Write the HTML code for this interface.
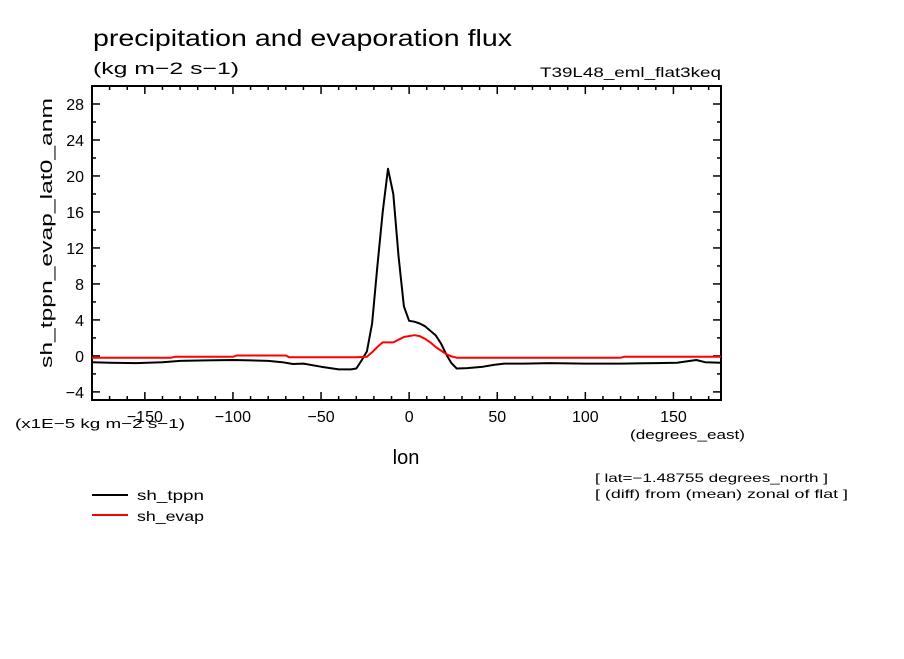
<!DOCTYPE html>
<html><head><meta charset="utf-8"><style>
html,body{margin:0;padding:0;background:#fff;}
svg text{font-family:"Liberation Sans",sans-serif;fill:#000;}
</style></head><body>
<svg id="chart" width="904" height="654" xmlns="http://www.w3.org/2000/svg">
<text x="93" y="46" font-size="23" textLength="419" lengthAdjust="spacingAndGlyphs">precipitation and evaporation flux</text>
<text x="93" y="74" font-size="17" textLength="146" lengthAdjust="spacingAndGlyphs">(kg m−2 s−1)</text>
<text x="540" y="77" font-size="14" textLength="181" lengthAdjust="spacingAndGlyphs">T39L48_eml_flat3keq</text>
<text transform="translate(52,233) rotate(-90)" font-size="17" text-anchor="middle" textLength="270" lengthAdjust="spacingAndGlyphs">sh_tppn_evap_lat0_anm</text>
<text x="15" y="428" font-size="13" textLength="170" lengthAdjust="spacingAndGlyphs">(x1E−5 kg m−2 s−1)</text>
<text x="630" y="439" font-size="13" textLength="115" lengthAdjust="spacingAndGlyphs">(degrees_east)</text>
<text x="406" y="464" font-size="20" text-anchor="middle">lon</text>
<text x="595" y="482" font-size="12" textLength="233" lengthAdjust="spacingAndGlyphs">[ lat=−1.48755 degrees_north ]</text>
<text x="595" y="498" font-size="12" textLength="253" lengthAdjust="spacingAndGlyphs">[ (diff) from (mean) zonal of flat ]</text>
<line x1="92" y1="495" x2="128" y2="495" stroke="#000" stroke-width="2"/>
<text x="137" y="500" font-size="14" textLength="67" lengthAdjust="spacingAndGlyphs">sh_tppn</text>
<line x1="92" y1="515" x2="128" y2="515" stroke="#f00" stroke-width="2"/>
<text x="137" y="521" font-size="14" textLength="67" lengthAdjust="spacingAndGlyphs">sh_evap</text>
<g id="axes"></g>
<g id="series"></g>
</svg>
<script>
const xTicks = [-150,-100,-50,0,50,100,150];
const yTicks = [-4,0,4,8,12,16,20,24,28];
const tppnLon = [-180,-170,-155,-140,-130,-115,-100,-90,-80,-72,-66,-60,-50,-40,-33,-30,-27,-24,-21,-18,-15,-12,-9,-6,-3,0,3,6,9,12,15,18,21,24,27,33,42,48,54,65,80,100,120,140,152,158,163,168,177];
const tppnVal = [-0.7,-0.75,-0.8,-0.7,-0.55,-0.5,-0.45,-0.5,-0.55,-0.7,-0.9,-0.85,-1.2,-1.5,-1.5,-1.4,-0.5,0.5,3.6,10,16,20.8,18,11,5.5,3.9,3.8,3.6,3.3,2.8,2.3,1.4,0.2,-0.8,-1.4,-1.35,-1.2,-1.0,-0.85,-0.85,-0.8,-0.85,-0.85,-0.8,-0.75,-0.6,-0.45,-0.7,-0.75];
const evapLon = [-180,-135,-133,-100,-98,-70,-68,-30,-24,-21,-18,-15,-9,-6,-3,3,6,9,12,15,18,21,24,27,120,122,177];
const evapVal = [-0.2,-0.2,-0.1,-0.1,0.05,0.05,-0.15,-0.15,-0.1,0.4,1.0,1.5,1.5,1.8,2.1,2.3,2.2,1.9,1.5,1.0,0.6,0.2,-0.05,-0.2,-0.2,-0.1,-0.1];

const NS="http://www.w3.org/2000/svg";
const L=92,R=721,T=86,B=400;
const xMin=-180,xMax=177,yMin=-4.9,yMax=30;
const sx=v=>L+(v-xMin)/(xMax-xMin)*(R-L);
const sy=v=>B-(v-yMin)/(yMax-yMin)*(B-T);
const axes=document.getElementById('axes');
const series=document.getElementById('series');
function mk(tag,attrs,parent){const e=document.createElementNS(NS,tag);for(const k in attrs)e.setAttribute(k,attrs[k]);parent.appendChild(e);return e;}

const frame=mk('rect',{x:L,y:T,width:R-L,height:B-T,fill:'none',stroke:'#000','stroke-width':2},axes);



for(let v=-170;v<=170;v+=10){
  const len=(v%50===0)?8:4;
  const t1=mk('line',{x1:sx(v),x2:sx(v),y1:B,y2:B-len,stroke:'#000','stroke-width':1.5},axes);
  
  
  const t2=mk('line',{x1:sx(v),x2:sx(v),y1:T,y2:T+len,stroke:'#000','stroke-width':1.5},axes);
  
  
}
xTicks.forEach(v=>{
  const t=mk('text',{x:sx(v),y:B+22,'font-size':16,'text-anchor':'middle'},axes);
  t.textContent=v<0?'−'+Math.abs(v):String(v);
  
  
});
for(let v=-4;v<=30;v+=2){
  const len=(v%4===0)?8:4;
  const t1=mk('line',{x1:L,x2:L+len,y1:sy(v),y2:sy(v),stroke:'#000','stroke-width':1.5},axes);
  
  
  const t2=mk('line',{x1:R,x2:R-len,y1:sy(v),y2:sy(v),stroke:'#000','stroke-width':1.5},axes);
  
  
}
yTicks.forEach(v=>{
  const t=mk('text',{x:L-8,y:sy(v)+6,'font-size':16,'text-anchor':'end'},axes);
  t.textContent=v<0?'−'+Math.abs(v):String(v);
  
  
});
function line(lons,vals,color,name){
  const d=lons.map((x,i)=>(i?'L':'M')+sx(x).toFixed(1)+','+sy(vals[i]).toFixed(1)).join(' ');
  const p=mk('path',{d:d,fill:'none',stroke:color,'stroke-width':2,'stroke-linejoin':'round'},series);
  
  
}
line(tppnLon,tppnVal,'#000','series-sh-tppn');
line(evapLon,evapVal,'#f00','series-sh-evap');
</script>
</body></html>
